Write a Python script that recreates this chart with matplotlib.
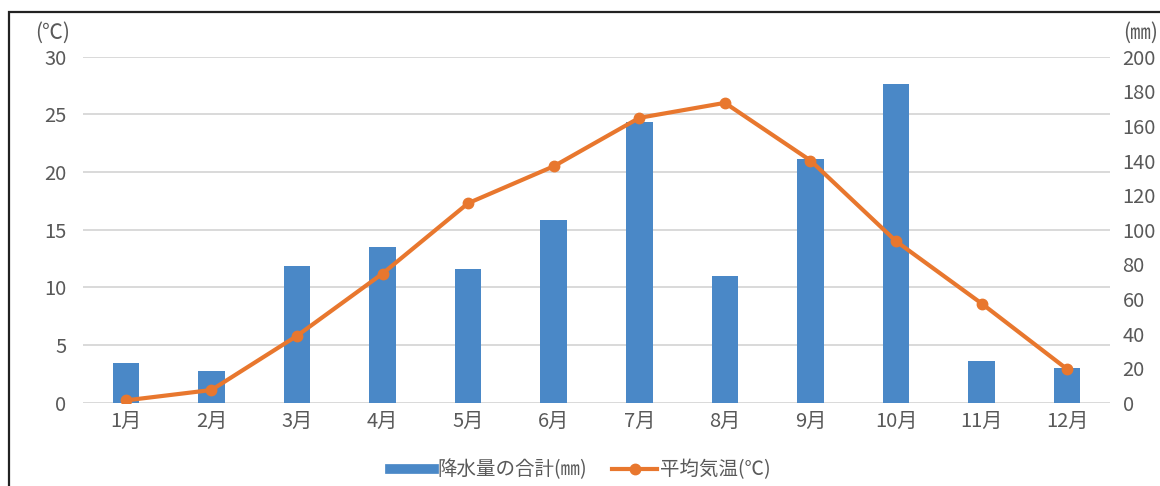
import matplotlib
matplotlib.use("Agg")
import matplotlib.pyplot as plt
from matplotlib.lines import Line2D
from matplotlib.patches import Rectangle
from matplotlib.ticker import MultipleLocator

plt.rcParams['font.family'] = ['Noto Sans CJK JP', 'DejaVu Sans']

months = ['1月', '2月', '3月', '4月', '5月', '6月', '7月', '8月', '9月', '10月', '11月', '12月']
rain_mm = [23, 18.5, 79, 90, 77, 105.5, 162, 73, 141, 184, 24, 20]
temp_c = [0.2, 1.1, 5.8, 11.2, 17.3, 20.5, 24.7, 26.0, 21.0, 14.0, 8.6, 2.9]

blue = '#4A88C7'
orange = '#E8772E'
gray_txt = '#595959'
grid_c = '#D9D9D9'

fig = plt.figure(figsize=(11.6, 4.86), dpi=100)
ax_b = fig.add_axes([0.0716, 0.1714, 0.8853, 0.7119])
x = range(len(months))

# bars on the mm scale (right side)
ax_b.bar(x, rain_mm, width=0.31, color=blue, zorder=2)
ax_b.set_ylim(0, 200)
ax_b.set_xlim(-0.5, 11.5)
ax_b.set_xticks(list(x))
ax_b.set_xticklabels(months)
ax_b.tick_params(axis='x', length=0, pad=6, labelsize=14.5, labelcolor=gray_txt)
for s in ax_b.spines.values():
    s.set_visible(False)

# temperature line on the C scale (left side)
ax_t = ax_b.twinx()
ax_t.plot(x, temp_c, color=orange, lw=3, marker='o', markersize=7.5, zorder=3)
ax_t.set_ylim(0, 30)
ax_t.yaxis.set_major_locator(MultipleLocator(5))
ax_t.yaxis.tick_left()
ax_t.tick_params(axis='y', length=0, pad=12, labelsize=14.5, labelcolor=gray_txt)
for s in ax_t.spines.values():
    s.set_visible(False)

# twinx moved the bar axis ticks; put them back on the right
ax_b.yaxis.tick_right()
ax_b.yaxis.set_major_locator(MultipleLocator(20))
ax_b.yaxis.set_minor_locator(MultipleLocator(200 / 6))
ax_b.yaxis.remove_overlapping_locs = False
ax_b.grid(which='minor', axis='y', color=grid_c, lw=1.4, zorder=0)
ax_b.grid(which='major', visible=False)
ax_b.set_axisbelow(True)
ax_b.tick_params(axis='y', which='both', length=0, pad=9, labelsize=14.5, labelcolor=gray_txt)

fig.text(53 / 1160, 1 - 33 / 486, '(℃)', ha='center', va='center', fontsize=15, color=gray_txt)
fig.text(1141 / 1160, 1 - 33 / 486, '(㎜)', ha='center', va='center', fontsize=15, color=gray_txt)

handles = [Line2D([], [], color=blue, lw=7),
           Line2D([], [], color=orange, lw=3, marker='o', markersize=7.5)]
fig.legend(handles, ['降水量の合計(㎜)', '平均気温(℃)'], loc='center',
           bbox_to_anchor=(0.5, 1 - 470 / 486), ncol=2, frameon=False,
           fontsize=14, handlelength=2.3, handletextpad=0.15, columnspacing=1.3,
           labelcolor=gray_txt)

fig.patches.append(Rectangle((9 / 1160, -0.1), 1.2, 1.1 - 12 / 486,
                             transform=fig.transFigure, fill=False,
                             edgecolor='#222222', lw=1.6, clip_on=False))

fig.savefig('out.png', dpi=100)
